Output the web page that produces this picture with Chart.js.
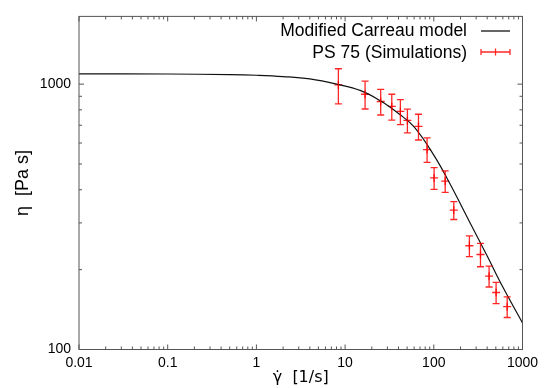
<!DOCTYPE html>
<html>
<head>
<meta charset="utf-8">
<script src="https://cdn.jsdelivr.net/npm/chart.js@4.4.0/dist/chart.umd.min.js"></script>
<style>
  html, body { margin: 0; padding: 0; background: #fff; }
</style>
</head>
<body>
<canvas id="rheoChart" width="544" height="388"></canvas>
<script>
// simulated points (shear rate, viscosity, +/- error)
const shearRate = [8.4, 16.8, 25.2, 33.6, 42, 50.4, 67.2, 84, 100.8, 134.4, 168, 252, 336, 420, 504, 672];
const viscosity = [993, 916, 860, 824, 789, 730, 693, 567, 443, 431, 335, 246, 228, 189, 164, 145];
const viscosityErr = [150, 110, 95, 92, 85, 75, 77, 60, 42, 40, 26, 22, 23, 17, 15, 13];

// modified Carreau curve
const modelRate = [0.01, 0.1, 0.5, 1, 2, 4, 8, 15, 25, 40, 60, 100, 150, 250, 400, 600, 1000];
const modelVisc = [1094, 1092, 1086, 1080, 1068, 1046, 1000, 945, 865, 775, 690, 540, 425, 305, 225, 172, 126];

const xTickLabels = ['0.01', '0.1', '1', '10', '100', '1000'];
const yTickLabels = ['100', '1000'];

const RED = 'rgba(255, 0, 0, 0.85)';
const FONT = 'Liberation Sans, Arial, sans-serif';

function labelFor(list, v) {
  return list.find(l => Math.abs(Number(l) / v - 1) < 1e-6) || '';
}

// gnuplot style frame, inward ticks, error bars and legend
const gnuplotBits = {
  id: 'gnuplotBits',
  afterDatasetsDraw(chart) {
    const { ctx, chartArea: a, scales: { x, y } } = chart;
    ctx.save();

    // error bars
    ctx.strokeStyle = RED;
    ctx.lineWidth = 1.3;
    shearRate.forEach((r, i) => {
      const px = x.getPixelForValue(r);
      const top = y.getPixelForValue(viscosity[i] + viscosityErr[i]);
      const bot = y.getPixelForValue(viscosity[i] - viscosityErr[i]);
      ctx.beginPath();
      ctx.moveTo(px, top); ctx.lineTo(px, bot);
      ctx.moveTo(px - 3.5, top); ctx.lineTo(px + 3.5, top);
      ctx.moveTo(px - 3.5, bot); ctx.lineTo(px + 3.5, bot);
      ctx.stroke();
    });

    // frame
    ctx.strokeStyle = '#555';
    ctx.lineWidth = 1;
    ctx.strokeRect(a.left, a.top, a.right - a.left, a.bottom - a.top);

    // ticks
    ctx.beginPath();
    for (let d = -2; d <= 3; d++) {
      for (let m = 1; m <= 9; m++) {
        const v = m * Math.pow(10, d);
        if (v > 1000 * 1.0001) break;
        const px = x.getPixelForValue(v);
        const len = m === 1 ? 5 : 3;
        ctx.moveTo(px, a.bottom); ctx.lineTo(px, a.bottom - len);
        ctx.moveTo(px, a.top); ctx.lineTo(px, a.top + len);
      }
    }
    for (let d = 2; d <= 3; d++) {
      for (let m = 1; m <= 9; m++) {
        const v = m * Math.pow(10, d);
        if (v > y.max) break;
        const py = y.getPixelForValue(v);
        const len = m === 1 ? 5 : 3;
        ctx.moveTo(a.left, py); ctx.lineTo(a.left + len, py);
        ctx.moveTo(a.right, py); ctx.lineTo(a.right - len, py);
      }
    }
    ctx.stroke();

    // legend
    const ds = chart.data.datasets;
    ctx.font = '17.5px ' + FONT;
    ctx.fillStyle = '#000';
    ctx.textAlign = 'right';
    ctx.textBaseline = 'middle';
    ctx.fillText(ds[0].label, 467, 31);
    ctx.fillText(ds[1].label, 467, 53);

    ctx.strokeStyle = '#000';
    ctx.lineWidth = 1.2;
    ctx.beginPath();
    ctx.moveTo(481, 31); ctx.lineTo(510, 31);
    ctx.stroke();

    ctx.strokeStyle = RED;
    ctx.lineWidth = 1.3;
    ctx.beginPath();
    ctx.moveTo(481, 52); ctx.lineTo(510, 52);
    ctx.moveTo(481, 49); ctx.lineTo(481, 55);
    ctx.moveTo(510, 49); ctx.lineTo(510, 55);
    ctx.moveTo(495.5, 48.5); ctx.lineTo(495.5, 55.5);
    ctx.stroke();

    ctx.restore();
  }
};

new Chart(document.getElementById('rheoChart'), {
  type: 'scatter',
  data: {
    datasets: [{
      label: 'Modified Carreau model',
      data: modelRate.map((r, i) => ({ x: r, y: modelVisc[i] })),
      showLine: true,
      borderColor: '#111',
      borderWidth: 1.2,
      pointRadius: 0,
      tension: 0.4
    }, {
      label: 'PS 75 (Simulations)',
      data: shearRate.map((r, i) => ({ x: r, y: viscosity[i] })),
      pointStyle: 'cross',
      pointRadius: 4,
      borderColor: RED,
      backgroundColor: RED,
      borderWidth: 1.3
    }]
  },
  options: {
    responsive: false,
    animation: false,
    devicePixelRatio: 1,
    layout: { padding: { top: 14.7, right: 21.5, left: 0, bottom: 0 } },
    plugins: {
      legend: { display: false },
      tooltip: { enabled: false }
    },
    scales: {
      x: {
        type: 'logarithmic',
        min: 0.01,
        max: 1000,
        grid: { display: false, drawTicks: false },
        border: { display: false },
        afterFit(scale) { scale.height = 38.5; },
        ticks: {
          autoSkip: false,
          maxRotation: 0,
          padding: 5,
          color: '#000',
          font: { family: FONT, size: 14 },
          callback: v => labelFor(xTickLabels, v)
        },
        title: {
          display: true,
          text: 'γ̇  [1/s]',
          color: '#000',
          font: { family: 'DejaVu Sans, sans-serif', size: 16, lineHeight: 1 },
          padding: { top: 0, bottom: 2 }
        }
      },
      y: {
        type: 'logarithmic',
        min: 100,
        max: 1800,
        grid: { display: false, drawTicks: false },
        border: { display: false },
        afterFit(scale) { scale.width = 79; },
        ticks: {
          autoSkip: false,
          padding: 8,
          color: '#000',
          font: { family: FONT, size: 14 },
          callback: v => labelFor(yTickLabels, v)
        },
        title: {
          display: true,
          text: 'η  [Pa s]',
          color: '#000',
          font: { family: FONT, size: 18, lineHeight: 1 },
          padding: { top: 14, bottom: 0 }
        }
      }
    }
  },
  plugins: [gnuplotBits]
});
</script>
</body>
</html>
